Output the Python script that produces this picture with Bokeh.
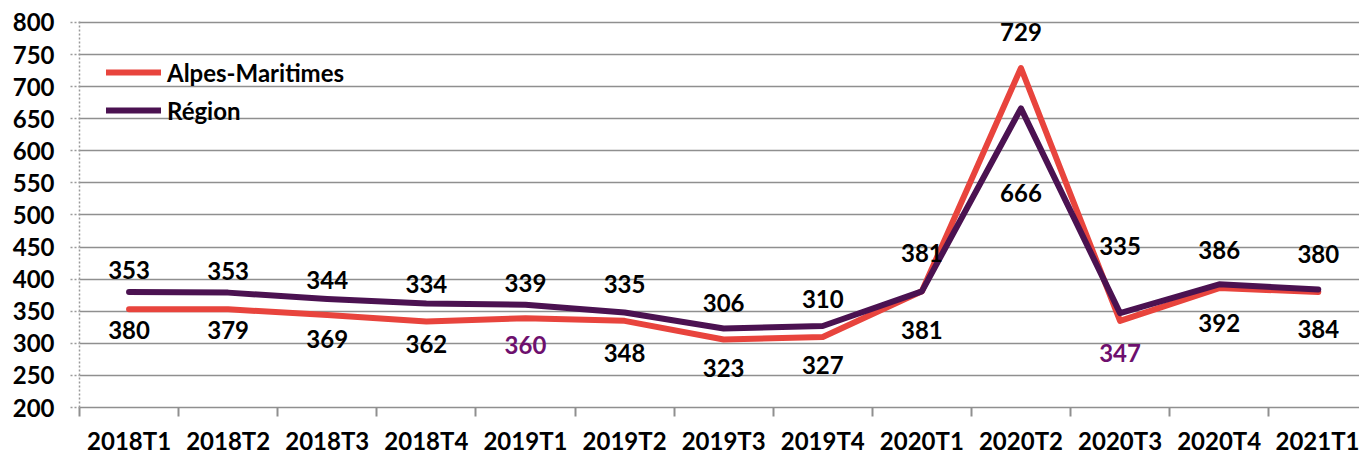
from bokeh.plotting import figure
from bokeh.models import ColumnDataSource, FixedTicker, Range1d, Legend, LegendItem
from bokeh.core.properties import value
from bokeh.embed import file_html
from bokeh.resources import INLINE

quarters = ["2018T1", "2018T2", "2018T3", "2018T4", "2019T1", "2019T2", "2019T3",
            "2019T4", "2020T1", "2020T2", "2020T3", "2020T4", "2021T1"]
alpes_maritimes = [353, 353, 344, 334, 339, 335, 306, 310, 381, 729, 335, 386, 380]
region = [380, 379, 369, 362, 360, 348, 323, 327, 381, 666, 347, 392, 384]
y_ticks = list(range(200, 801, 50))

# label layout: pixel distance of each value label from the upper / lower line
am_label_dy = [22, 22, 19, 20, 22, 29, 26, 27, 38, 36, 67, 34, 35]
reg_label_dy = [21, 21, 24, 22, 27, 32, 29, 28, 39, 85, 32, 35, 37]
reg_label_colors = ["black", "black", "black", "black", "#6E106E", "black", "black",
                    "black", "black", "black", "#6E106E", "black", "black"]

RED = "#E8443D"
PURPLE = "#4B1251"
FONT = "Lato"
FS = "24px"

frame_w, frame_h = 1280, 387
y0, y1 = 200, 803
px_per_unit = frame_h / (y1 - y0)

p = figure(frame_width=frame_w, frame_height=frame_h, output_backend="svg",
           toolbar_location=None, min_border_left=79, min_border_right=0,
           min_border_top=20, min_border_bottom=47,
           x_range=Range1d(-0.5, 12.416), y_range=Range1d(y0, y1))
p.outline_line_color = None
p.background_fill_color = "white"

xs = list(range(len(quarters)))
src = ColumnDataSource(dict(x=xs, am=alpes_maritimes, reg=region))
r_am = p.line("x", "am", source=src, line_color=RED, line_width=6,
              line_join="round", line_cap="round")
r_reg = p.line("x", "reg", source=src, line_color=PURPLE, line_width=6,
               line_join="round", line_cap="round")

# value labels
hi = [max(a, b) for a, b in zip(alpes_maritimes, region)]
lo = [min(a, b) for a, b in zip(alpes_maritimes, region)]
top_src = ColumnDataSource(dict(
    x=xs, y=[h + d / px_per_unit for h, d in zip(hi, am_label_dy)],
    t=[str(v) for v in alpes_maritimes]))
bot_src = ColumnDataSource(dict(
    x=xs, y=[l - d / px_per_unit for l, d in zip(lo, reg_label_dy)],
    t=[str(v) for v in region], c=reg_label_colors))
p.text("x", "y", text="t", source=top_src, text_align="center", text_baseline="middle",
       text_font=value(FONT), text_font_style="bold", text_font_size=FS,
       text_color="black")
p.text("x", "y", text="t", source=bot_src, text_align="center", text_baseline="middle",
       text_font=value(FONT), text_font_style="bold", text_font_size=FS,
       text_color="c")

# axes
p.xgrid.visible = False
p.ygrid.ticker = FixedTicker(ticks=y_ticks)
p.ygrid.grid_line_color = "#8f8f8f"
p.ygrid.grid_line_width = 1.6

p.yaxis.ticker = FixedTicker(ticks=y_ticks)
p.yaxis.axis_line_color = "#9a9a9a"
p.yaxis.axis_line_dash = "2 2"
p.yaxis.axis_line_width = 1.5
p.yaxis.major_tick_line_color = "#9a9a9a"
p.yaxis.major_tick_line_dash = "2 2"
p.yaxis.major_tick_line_width = 1.5
p.yaxis.major_tick_out = 9
p.yaxis.major_tick_in = 0
p.yaxis.minor_tick_line_color = None
p.yaxis.major_label_standoff = 16
p.yaxis.major_label_text_font = FONT
p.yaxis.major_label_text_font_style = "bold"
p.yaxis.major_label_text_font_size = FS
p.yaxis.major_label_text_color = "black"

p.xaxis.ticker = FixedTicker(ticks=xs, minor_ticks=[i + 0.5 for i in range(-1, 12)])
p.xaxis.major_label_overrides = {i: q for i, q in enumerate(quarters)}
p.xaxis.axis_line_color = "#8f8f8f"
p.xaxis.axis_line_width = 1.6
p.xaxis.major_tick_line_color = None
p.xaxis.major_tick_out = 0
p.xaxis.major_tick_in = 0
p.xaxis.minor_tick_line_color = "#8f8f8f"
p.xaxis.minor_tick_line_width = 2
p.xaxis.minor_tick_out = 9
p.xaxis.minor_tick_in = 0
p.xaxis.major_label_standoff = 9
p.xaxis.major_label_text_font = FONT
p.xaxis.major_label_text_font_style = "bold"
p.xaxis.major_label_text_font_size = FS
p.xaxis.major_label_text_color = "black"

# legend
leg_h = 30 * 2 + 8
legend = Legend(items=[LegendItem(label="Alpes-Maritimes", renderers=[r_am]),
                       LegendItem(label="Région", renderers=[r_reg])],
                location=(27, frame_h - 37 - leg_h), orientation="vertical",
                padding=0, margin=0, spacing=8, glyph_width=55, glyph_height=30,
                label_height=30, label_standoff=6, border_line_color=None,
                background_fill_alpha=0, label_text_font=FONT,
                label_text_font_style="bold", label_text_font_size=FS,
                label_text_color="black")
p.add_layout(legend, "center")

open("out.html", "w").write(file_html(p, INLINE))
